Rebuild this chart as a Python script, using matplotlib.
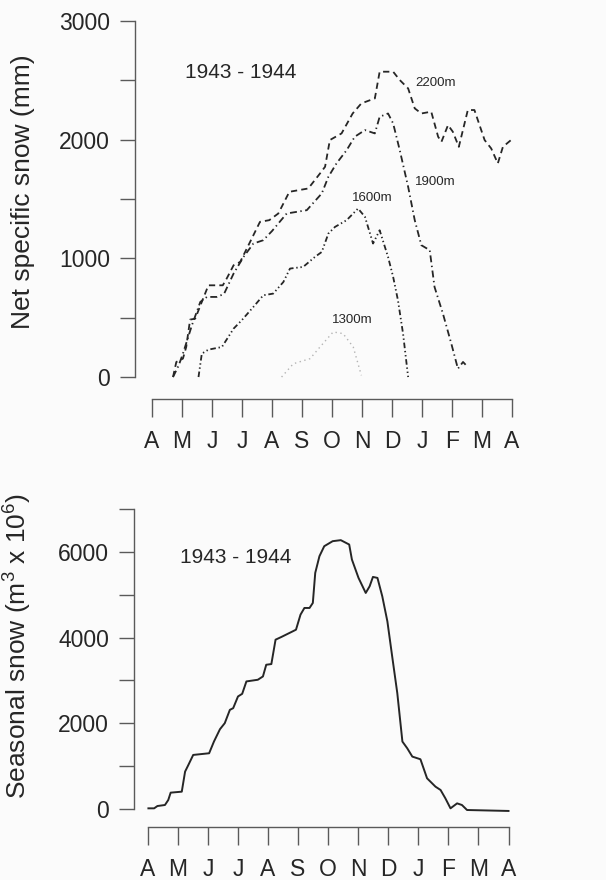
"""Seasonal snow accumulation chart, 1943-1944."""

import matplotlib

matplotlib.use("Agg")
import matplotlib.pyplot as plt

COLORS = {
    "ink": "#262626",
    "axis": "#5a5a5a",
    "faint": "#b4b4b4",
    "background": "#fbfbfb",
}

MONTHS = ["A", "M", "J", "J", "A", "S", "O", "N", "D", "J", "F", "M", "A"]

# net specific snow (mm) by elevation; x = months since 1 April
X_2200 = [0.70, 0.81, 1.03, 1.14, 1.27, 1.44, 1.66, 1.88, 2.36, 2.49, 2.72, 2.94, 3.38, 3.60,
          3.91, 4.21, 4.58, 5.21, 5.60, 5.77, 5.93, 6.32, 6.69, 6.98, 7.43, 7.59, 8.04, 8.26,
          8.54, 8.76, 8.98, 9.31, 9.54, 9.65, 9.87, 10.03, 10.23, 10.53, 10.75, 11.09, 11.31,
          11.53, 11.70, 11.97]
Y_2200 = [0, 127, 155, 253, 484, 492, 633, 773, 773, 830, 942, 970, 1195, 1308,
          1322, 1378, 1561, 1589, 1715, 1772, 1997, 2053, 2221, 2306, 2348, 2573, 2573, 2503,
          2432, 2264, 2221, 2236, 2025, 1982, 2123, 2067, 1940, 2250, 2250, 1997, 1926,
          1800, 1940, 1997]

X_1900 = [0.70, 0.89, 1.03, 1.33, 1.61, 1.83, 2.16, 2.40, 2.72, 3.05, 3.38, 3.71, 4.00, 4.49,
          5.16, 5.66, 5.88, 6.15, 6.49, 6.76, 7.10, 7.43, 7.59, 7.87, 8.04, 8.26, 8.54, 8.76,
          8.98, 9.26, 9.42, 9.70, 9.98, 10.20, 10.37, 10.53]
Y_1900 = [0, 98, 197, 436, 633, 675, 675, 700, 872, 1012, 1125, 1153, 1230, 1378,
          1406, 1547, 1687, 1800, 1912, 2025, 2081, 2053, 2193, 2221, 2137, 1912, 1603, 1322,
          1111, 1069, 759, 534, 281, 70, 127, 84]

X_1600 = [1.55, 1.66, 1.88, 2.33, 2.72, 2.99, 3.38, 3.71, 4.04, 4.38, 4.60, 5.04, 5.43, 5.66,
          5.88, 6.10, 6.49, 6.87, 7.10, 7.37, 7.59, 7.87, 8.04, 8.20, 8.37, 8.54]
Y_1600 = [0, 197, 231, 253, 408, 478, 591, 689, 703, 801, 914, 928, 1012, 1054,
          1209, 1265, 1322, 1420, 1350, 1125, 1237, 1012, 844, 647, 366, 0]

X_1300 = [4.32, 4.71, 5.27, 5.60, 6.04, 6.37, 6.71, 6.98]
Y_1300 = [0, 112, 155, 253, 380, 366, 253, 14]

# seasonal snow volume (m3 x 10^6)
X_SEASON = [0.02, 0.21, 0.32, 0.57, 0.68, 0.76, 1.13, 1.24, 1.35, 1.51, 2.04, 2.20, 2.40, 2.56,
            2.73, 2.84, 3.00, 3.14, 3.28, 3.66, 3.83, 3.94, 4.11, 4.25, 4.44, 4.82, 4.93, 5.08,
            5.21, 5.38, 5.49, 5.57, 5.71, 5.87, 6.15, 6.42, 6.70, 6.79, 7.01, 7.25, 7.38, 7.49,
            7.64, 7.80, 7.97, 8.13, 8.30, 8.47, 8.63, 8.80, 9.07, 9.29, 9.57, 9.74, 9.90, 10.07,
            10.29, 10.45, 10.62, 12.00]
Y_SEASON = [16, 16, 70, 94, 210, 382, 405, 873, 1029, 1262, 1301, 1574, 1862, 2003,
            2314, 2353, 2626, 2688, 2977, 3016, 3093, 3366, 3382, 3951, 4013, 4145, 4184, 4535,
            4691, 4691, 4808, 5509, 5899, 6132, 6249, 6273, 6171, 5821, 5392, 5041, 5197, 5415,
            5392, 4964, 4379, 3561, 2704, 1574, 1418, 1223, 1161, 717, 522, 444, 249, 16,
            132, 94, -23, -45]

plt.rcParams["font.family"] = ["Liberation Sans", "DejaVu Sans"]
plt.rcParams["mathtext.default"] = "regular"
plt.rcParams["lines.scale_dashes"] = False


def style_axes(ax, ymax, major, minor, xlim, ylim):
    ax.set_facecolor(COLORS["background"])
    ax.set_xlim(*xlim)
    ax.set_ylim(*ylim)
    for side in ("top", "right"):
        ax.spines[side].set_visible(False)
    ax.spines["left"].set_bounds(0, ymax)
    ax.spines["bottom"].set_bounds(0, 12)
    for side in ("left", "bottom"):
        ax.spines[side].set_color(COLORS["axis"])
        ax.spines[side].set_linewidth(1.0)
    ax.set_yticks(major)
    ax.set_yticks(minor, minor=True)
    ax.set_xticks(range(13))
    ax.set_xticklabels(MONTHS)
    ax.tick_params(axis="y", which="both", direction="out", length=11, width=1.0,
                   color=COLORS["axis"], labelsize=16.5, labelcolor=COLORS["ink"], pad=7)
    ax.tick_params(axis="x", direction="out", length=13, width=1.0,
                   color=COLORS["axis"], labelsize=16.5, labelcolor=COLORS["ink"], pad=9)


fig = plt.figure(figsize=(6.06, 8.8), dpi=100, facecolor=COLORS["background"])

top = fig.add_axes([0.2228, 0.5466, 0.6254, 0.4295])
style_axes(top, 3000, [0, 1000, 2000, 3000], [500, 1500, 2500], (-0.567, 12.07), (-185, 3000))
top.plot(X_2200, Y_2200, color=COLORS["ink"], lw=1.3, linestyle=(0, (4.5, 3)))
top.plot(X_1900, Y_1900, color=COLORS["ink"], lw=1.3, linestyle=(0, (5, 2.5, 1, 2.5)))
top.plot(X_1600, Y_1600, color=COLORS["ink"], lw=1.3, linestyle=(0, (4, 2, 1, 2, 1, 2)))
top.plot(X_1300, Y_1300, color=COLORS["faint"], lw=1.0, linestyle=(0, (1, 2.5)))
top.text(1.1, 2570, "1943 - 1944", fontsize=15, color=COLORS["ink"], va="center")
for x, y, name in [(8.77, 2477, "2200m"), (8.77, 1643, "1900m"),
                   (6.67, 1508, "1600m"), (6.0, 480, "1300m")]:
    top.text(x, y, name, fontsize=9.5, color=COLORS["ink"], va="center")
top.set_ylabel("Net specific snow (mm)", fontsize=19, color=COLORS["ink"])
top.yaxis.set_label_coords(-0.264, 0.548)

bottom = fig.add_axes([0.2211, 0.0602, 0.6205, 0.3614])
style_axes(bottom, 7000, [0, 2000, 4000, 6000], [1000, 3000, 5000, 7000], (-0.46, 12.05), (-420, 7000))
bottom.plot(X_SEASON, Y_SEASON, color=COLORS["ink"], lw=1.4)
bottom.text(1.06, 5860, "1943 - 1944", fontsize=15, color=COLORS["ink"], va="center")
bottom.set_ylabel("Seasonal snow (m$^3$ x 10$^6$)", fontsize=19, color=COLORS["ink"])
bottom.yaxis.set_label_coords(-0.266, 0.569)

fig.savefig("out.png", facecolor=fig.get_facecolor())
plt.close(fig)
